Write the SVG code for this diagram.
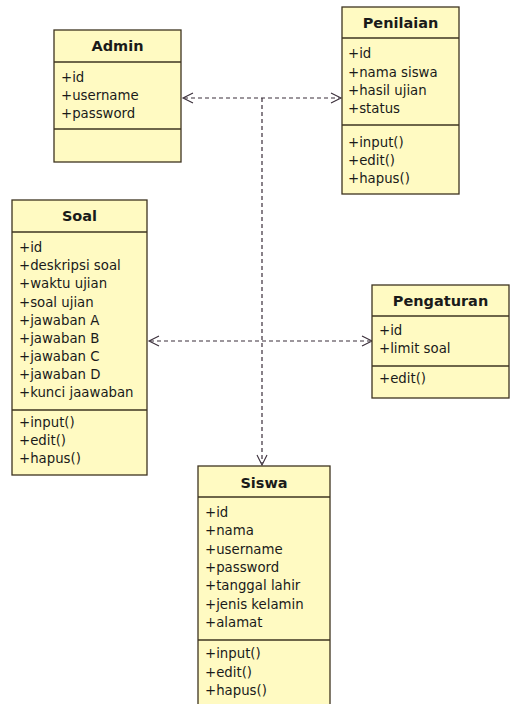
<svg xmlns="http://www.w3.org/2000/svg" width="510" height="704" viewBox="0 0 510 704">
<defs>
<style>
.box{fill:#fffac2;stroke:#3e3420;stroke-width:1.3}
.sep{stroke:#3e3420;stroke-width:1.3}
.t{font-family:"DejaVu Sans",Verdana,sans-serif;font-size:14.5px;font-weight:bold;fill:#1a1a1a;text-anchor:middle}
.m{font-family:"DejaVu Sans",Verdana,sans-serif;font-size:13.3px;fill:#1a1a1a}
.dep{fill:none;stroke:#3a2e3a;stroke-width:1.2;stroke-dasharray:4 3}
.hd{fill:none;stroke:#3a2e3a;stroke-width:1.1}
</style>
</defs>
<rect width="510" height="704" fill="#ffffff"/>
<g id="connectors">
<line class="dep" x1="262" y1="98" x2="262" y2="463"/>
<line class="dep" x1="184" y1="98" x2="339" y2="98"/>
<line class="dep" x1="150" y1="341" x2="370" y2="341"/>
<polyline class="hd" points="193,93 183,98 193,103"/>
<polyline class="hd" points="331,93 341,98 331,103"/>
<polyline class="hd" points="159,336 149,341 159,346"/>
<polyline class="hd" points="362,336 372,341 362,346"/>
<polyline class="hd" points="257,455 262,465 267,455"/>
</g>
<g id="admin">
<rect class="box" x="54" y="30" width="127" height="132"/>
<line class="sep" x1="54" y1="62" x2="181" y2="62"/>
<line class="sep" x1="54" y1="129" x2="181" y2="129"/>
<text class="t" x="117.5" y="51">Admin</text>
<text class="m" x="61" y="82">+id</text>
<text class="m" x="61" y="100">+username</text>
<text class="m" x="61" y="118">+password</text>
</g>
<g id="penilaian">
<rect class="box" x="342" y="7" width="117" height="187"/>
<line class="sep" x1="342" y1="38" x2="459" y2="38"/>
<line class="sep" x1="342" y1="125" x2="459" y2="125"/>
<text class="t" x="400.5" y="28">Penilaian</text>
<text class="m" x="348" y="58">+id</text>
<text class="m" x="348" y="76.5">+nama siswa</text>
<text class="m" x="348" y="95">+hasil ujian</text>
<text class="m" x="348" y="113">+status</text>
<text class="m" x="348" y="147">+input()</text>
<text class="m" x="348" y="165">+edit()</text>
<text class="m" x="348" y="183">+hapus()</text>
</g>
<g id="soal">
<rect class="box" x="12" y="200" width="135" height="275"/>
<line class="sep" x1="12" y1="232" x2="147" y2="232"/>
<line class="sep" x1="12" y1="410" x2="147" y2="410"/>
<text class="t" x="79.5" y="221">Soal</text>
<text class="m" x="19" y="252">+id</text>
<text class="m" x="19" y="270">+deskripsi soal</text>
<text class="m" x="19" y="288">+waktu ujian</text>
<text class="m" x="19" y="306.5">+soal ujian</text>
<text class="m" x="19" y="324.5">+jawaban A</text>
<text class="m" x="19" y="342.5">+jawaban B</text>
<text class="m" x="19" y="360.5">+jawaban C</text>
<text class="m" x="19" y="379">+jawaban D</text>
<text class="m" x="19" y="397">+kunci jaawaban</text>
<text class="m" x="19" y="427">+input()</text>
<text class="m" x="19" y="445">+edit()</text>
<text class="m" x="19" y="463">+hapus()</text>
</g>
<g id="pengaturan">
<rect class="box" x="372" y="285" width="137" height="113"/>
<line class="sep" x1="372" y1="316" x2="509" y2="316"/>
<line class="sep" x1="372" y1="366" x2="509" y2="366"/>
<text class="t" x="440.5" y="306">Pengaturan</text>
<text class="m" x="379" y="335">+id</text>
<text class="m" x="379" y="353">+limit soal</text>
<text class="m" x="379" y="383">+edit()</text>
</g>
<g id="siswa">
<rect class="box" x="198" y="466" width="132" height="242"/>
<line class="sep" x1="198" y1="497" x2="330" y2="497"/>
<line class="sep" x1="198" y1="640" x2="330" y2="640"/>
<text class="t" x="264" y="488">Siswa</text>
<text class="m" x="205" y="517">+id</text>
<text class="m" x="205" y="535">+nama</text>
<text class="m" x="205" y="553.5">+username</text>
<text class="m" x="205" y="572">+password</text>
<text class="m" x="205" y="590">+tanggal lahir</text>
<text class="m" x="205" y="608.5">+jenis kelamin</text>
<text class="m" x="205" y="627">+alamat</text>
<text class="m" x="205" y="658">+input()</text>
<text class="m" x="205" y="677">+edit()</text>
<text class="m" x="205" y="695">+hapus()</text>
</g>
</svg>
